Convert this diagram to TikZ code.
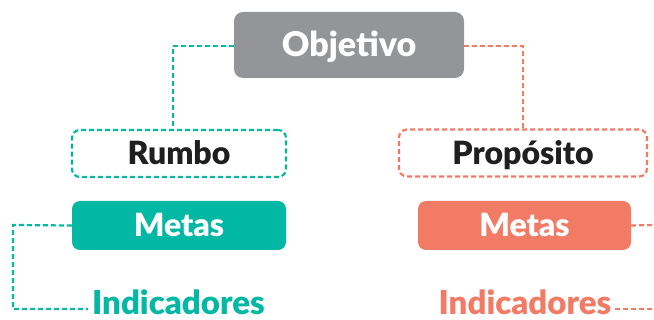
\documentclass[tikz,border=0pt]{standalone}
\usepackage{fontspec}
\setmainfont{Lato}[BoldFont={Lato Black}]
\definecolor{teal1}{RGB}{0,184,163}
\definecolor{coral1}{RGB}{242,123,102}
\definecolor{gray1}{RGB}{147,149,152}
\begin{document}
\begin{tikzpicture}[x=1pt,y=-1pt,
  lbl/.style={font=\fontsize{32}{34}\selectfont\bfseries,inner sep=0pt},
  dashline/.style={line width=2.2pt,dash pattern=on 5pt off 3pt},
  boxd/.style={draw,rounded corners=8pt,dashline,minimum width=214pt,minimum height=47pt,inner sep=0pt},
  boxf/.style={rounded corners=8pt,minimum width=214pt,minimum height=49pt,inner sep=0pt,text=white}]
\useasboundingbox (0,0) rectangle (654,320);
\fill[gray1,rounded corners=9pt] (234,12) rectangle (464,78);
\node[lbl,text=white,anchor=base,font=\fontsize{34}{36}\selectfont\bfseries] (obj) at (349,57) {Objetivo};
\coordinate (objL) at (234,46);
\coordinate (objR) at (464,46);
\node[boxd,teal1,minimum width=214pt] (rumbo) at (179,153.5) {};
\node[lbl,text=black!88,anchor=base] (rumbot) at (179,164.5) {Rumbo};
\node[boxd,coral1,minimum width=248pt] (prop) at (523,153) {};
\node[lbl,text=black!88,anchor=base] (propt) at (523,164.5) {Propósito};
\node[boxf,fill=teal1] (metaA) at (179,225.5) {};
\node[lbl,text=white,anchor=base] (metaAt) at (179,236.5) {Metas};
\node[boxf,fill=coral1,minimum width=213pt] (metaB) at (524.5,225.5) {};
\node[lbl,text=white,anchor=base] (metaBt) at (524.5,236.5) {Metas};
\node[lbl,text=teal1,anchor=base,font=\fontsize{33}{35}\selectfont\bfseries] (indA) at (178.5,314.5) {Indicadores};
\node[lbl,text=coral1,anchor=base,font=\fontsize{33}{35}\selectfont\bfseries] (indB) at (525,314.5) {Indicadores};
\coordinate (eA) at (654,225);
\coordinate (eB) at (654,309);
\draw[teal1,dashline] (objL) -- (173,46) -- (173,130);
\draw[coral1,dashline] (objR) -- (523,46) -- (523,130);
\draw[teal1,dashline] (metaA.west) -- (13,225) -- (13,309) -- ([xshift=-4pt]indA.west |- 0,309);
\draw[coral1,dashline] (metaB.east) -- (eA);
\draw[coral1,dashline] ([xshift=3pt]indB.east |- 0,309) -- (eB);
\end{tikzpicture}
\end{document}
